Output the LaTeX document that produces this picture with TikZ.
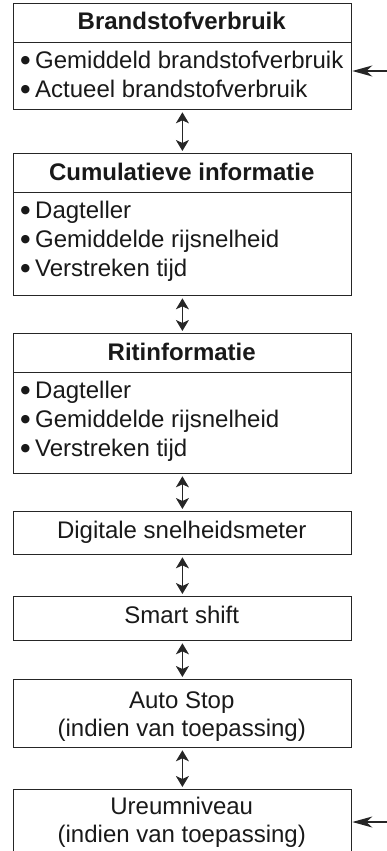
\documentclass[tikz,border=0pt]{standalone}
\usepackage{fontspec}
\setmainfont{Liberation Sans}
\newfontfamily\dejavu{DejaVu Sans}
\usetikzlibrary{arrows.meta}
\newcommand{\fsz}{\fontsize{24}{29}\selectfont}
\newcommand{\bul}{\makebox[22pt][l]{\hspace{7.5pt}\raisebox{4.7pt}{\dejavu\fontsize{11}{11}\selectfont ●}}}
\begin{document}
\begin{tikzpicture}[x=1pt,y=-1pt,
  frame/.style={draw=black!85, line width=1.3pt, inner sep=0pt, minimum width=338.5pt, anchor=north west},
  head/.style={anchor=base, inner sep=0pt, font=\bfseries\fsz, text=black!90},
  item/.style={anchor=base west, inner sep=0pt, font=\fsz, text=black!90},
  ctext/.style={anchor=base, inner sep=0pt, font=\fsz, text=black!90},
  vlink/.style={draw=black!85, line width=1.3pt, shorten <=2pt, shorten >=2pt,
    {Stealth[length=11pt,width=13pt,inset=3pt]}-{Stealth[length=11pt,width=13pt,inset=3pt]}},
  slink/.style={draw=black!85, line width=1.3pt, -{Stealth[length=20pt,width=11pt,inset=6pt]}}
]
\useasboundingbox (0,0) rectangle (387,851);
\clip (0,0) rectangle (387,851);

% Box 1
\node[frame, minimum height=39pt] (h1) at (12.5,3) {};
\node[frame, minimum height=67pt] (b1) at (12.5,42) {};
\node[head] (t1) at (181.75,29.5) {Brandstofverbruik};
\node[item] (t1a) at (13,68) {\bul Gemiddeld brandstofverbruik};
\node[item] (t1b) at (13,97) {\bul Actueel brandstofverbruik};

% Box 2
\node[frame, minimum height=39pt] (h2) at (12.5,153) {};
\node[frame, minimum height=103pt] (b2) at (12.5,192) {};
\node[head] (t2) at (181.75,180) {Cumulatieve informatie};
\node[item] (t2a) at (13,218) {\bul Dagteller};
\node[item] (t2b) at (13,247) {\bul Gemiddelde rijsnelheid};
\node[item] (t2c) at (13,276) {\bul Verstreken tijd};

% Box 3
\node[frame, minimum height=39pt] (h3) at (12.5,333) {};
\node[frame, minimum height=101pt] (b3) at (12.5,372) {};
\node[head] (t3) at (181.75,360) {Ritinformatie};
\node[item] (t3a) at (13,398) {\bul Dagteller};
\node[item] (t3b) at (13,427) {\bul Gemiddelde rijsnelheid};
\node[item] (t3c) at (13,456) {\bul Verstreken tijd};

% Box 4
\node[frame, minimum height=43pt] (d4) at (12.5,511) {};
\node[ctext] (t4) at (181.75,538) {Digitale snelheidsmeter};

% Box 5
\node[frame, minimum height=44pt] (d5) at (12.5,596) {};
\node[ctext] (t5) at (181.75,623) {Smart shift};

% Box 6
\node[frame, minimum height=68pt] (d6) at (12.5,679) {};
\node[ctext] (t6a) at (181.75,708) {Auto Stop};
\node[ctext] (t6b) at (181.75,736) {(indien van toepassing)};

% Box 7
\node[frame, minimum height=91pt] (d7) at (12.5,789) {};
\node[ctext] (t7a) at (181.75,814) {Ureumniveau};
\node[ctext] (t7b) at (181.75,842) {(indien van toepassing)};

% vertical links
\draw[vlink] (b1) -- (h2);
\draw[vlink] (b2) -- (h3);
\draw[vlink] (b3) -- (d4);
\draw[vlink] (d4) -- (d5);
\draw[vlink] (d5) -- (d6);
\draw[vlink] (d6) -- (d7);

% side inputs
\coordinate (e1) at (387,71);
\coordinate (e7) at (387,822);
\draw[slink] (e1) -- (e1 -| b1.east);
\draw[slink] (e7) -- (e7 -| d7.east);
\end{tikzpicture}
\end{document}
